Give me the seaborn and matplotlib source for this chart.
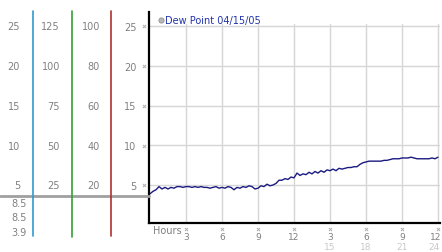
import matplotlib
matplotlib.use("Agg")
import matplotlib.pyplot as plt
import seaborn as sns
import pandas as pd
import numpy as np

# ---- data ----
hours = [i * 0.25 for i in range(97)]
dew_point = [3.9, 4.2, 4.4, 4.8, 4.5, 4.7, 4.5, 4.7, 4.6, 4.8, 4.8, 4.7, 4.8, 4.8, 4.7, 4.8,
             4.7, 4.8, 4.7, 4.7, 4.6, 4.7, 4.8, 4.6, 4.7, 4.6, 4.8, 4.7, 4.4, 4.7, 4.6, 4.8,
             4.7, 4.9, 4.8, 4.5, 4.6, 4.9, 4.8, 5.1, 4.9, 5.0, 5.2, 5.6, 5.6, 5.8, 5.7, 6.0,
             5.9, 6.5, 6.2, 6.4, 6.3, 6.6, 6.4, 6.7, 6.5, 6.8, 6.6, 6.9, 6.8, 7.0, 6.8, 7.1,
             7.0, 7.1, 7.2, 7.2, 7.3, 7.3, 7.6, 7.8, 7.9, 8.0, 8.0, 8.0, 8.0, 8.0, 8.1, 8.1,
             8.2, 8.3, 8.3, 8.3, 8.4, 8.4, 8.4, 8.5, 8.4, 8.3, 8.3, 8.3, 8.3, 8.3, 8.4, 8.3, 8.5]
x_ticks = [3, 6, 9, 12, 15, 18, 21, 24]
x_labels_top = ["3", "6", "9", "12", "3", "6", "9", "12"]
x_labels_bottom = ["", "", "", "", "15", "18", "21", "24"]
y_ticks = [25, 20, 15, 10, 5]
scale1 = ["25", "20", "15", "10", "5"]
scale2 = ["125", "100", "75", "50", "25"]
scale3 = ["100", "80", "60", "40", "20"]
stats = ["8.5", "8.5", "3.9"]
legend_label = "Dew Point 04/15/05"

W, H = 442, 253
fig = plt.figure(figsize=(W / 100, H / 100), dpi=100)
sns.set_style("white")
plt.rcParams['font.family'] = ['DejaVu Sans']

def fx(x):
    return x / W

def fy(y):
    return 1 - y / H

# main axes
ax = fig.add_axes([fx(149), fy(224), fx(440 - 149), (224 - 13) / H])
df = pd.DataFrame({"hour": hours, "dew": dew_point})
ax.set_xlim(-1 / 12, 24 + 2 / 12)
ax.set_ylim(5 - 38 / 7.95, 5 + 173 / 7.95)
ylo, yhi = ax.get_ylim()
for t in x_ticks:
    ax.axvline(t, ymin=0, ymax=(25.25 - ylo) / (yhi - ylo), color="#d6d6d6", lw=1, zorder=0)
for t in y_ticks:
    ax.axhline(t, color="#d6d6d6", lw=1, zorder=0)
sns.lineplot(data=df, x="hour", y="dew", ax=ax, color="#1a1a80", lw=1, legend=False)
for s in ["top", "right"]:
    ax.spines[s].set_visible(False)
for s in ["left", "bottom"]:
    ax.spines[s].set_color("black")
    ax.spines[s].set_linewidth(1.6)
ax.set_xticks(x_ticks)
ax.set_xticklabels([])
ax.set_yticks(y_ticks)
ax.set_yticklabels(scale1, fontsize=7, color="#808080")
ax.tick_params(axis="x", length=0)
ax.tick_params(axis="y", length=0, pad=9)
ax.set_xlabel("")
ax.set_ylabel("")

# overlay in pixel coordinates
ov = fig.add_axes([0, 0, 1, 1])
ov.set_xlim(0, W)
ov.set_ylim(H, 0)
ov.axis("off")
ov.patch.set_alpha(0)

ypix = [27, 66.5, 106.5, 146.5, 186]
ov.plot([0, 149], [197, 197], color="#a0a0a0", lw=2)
ov.plot([33, 33], [12, 237], color="#3399cc", lw=1.2)
ov.plot([72, 72], [12, 238], color="#33a033", lw=1.2)
ov.plot([111, 111], [12, 237], color="#b03030", lw=1.2)
for yp, a, b, c in zip(ypix, scale1, scale2, scale3):
    ov.text(20, yp, a, ha="right", va="center", fontsize=7, color="#808080")
    ov.text(60, yp, b, ha="right", va="center", fontsize=7, color="#808080")
    ov.text(100, yp, c, ha="right", va="center", fontsize=7, color="#808080")
    ov.scatter([144], [yp], marker="x", s=5, color="#b0b0b0", lw=0.7)
for yp, s in zip([204, 218.5, 233], stats):
    ov.text(27, yp, s, ha="right", va="center", fontsize=7, color="#808080")
for i, (t, lt, lb) in enumerate(zip(x_ticks, x_labels_top, x_labels_bottom)):
    xp = 150 + t * 12
    last = i == len(x_ticks) - 1
    ov.scatter([xp], [230], marker="x", s=5, color="#b0b0b0", lw=0.7)
    ov.text(441 if last else xp, 237.5, lt, ha="right" if last else "center", va="center",
            fontsize=6.5, color="#808080")
    if lb:
        ov.text(440 if last else xp, 247.5, lb, ha="right" if last else "center", va="center",
                fontsize=6.5, color="#c8c8c8")
ov.text(153, 231.5, "Hours", ha="left", va="center", fontsize=7, color="#808080")
ov.scatter([160.5], [20.5], s=14, color="#b8b8b8", edgecolor="#909090", lw=0.6)
ov.text(165, 20.5, legend_label, ha="left", va="center", fontsize=7, color="#2233aa")

fig.savefig("out.png", dpi=100)
